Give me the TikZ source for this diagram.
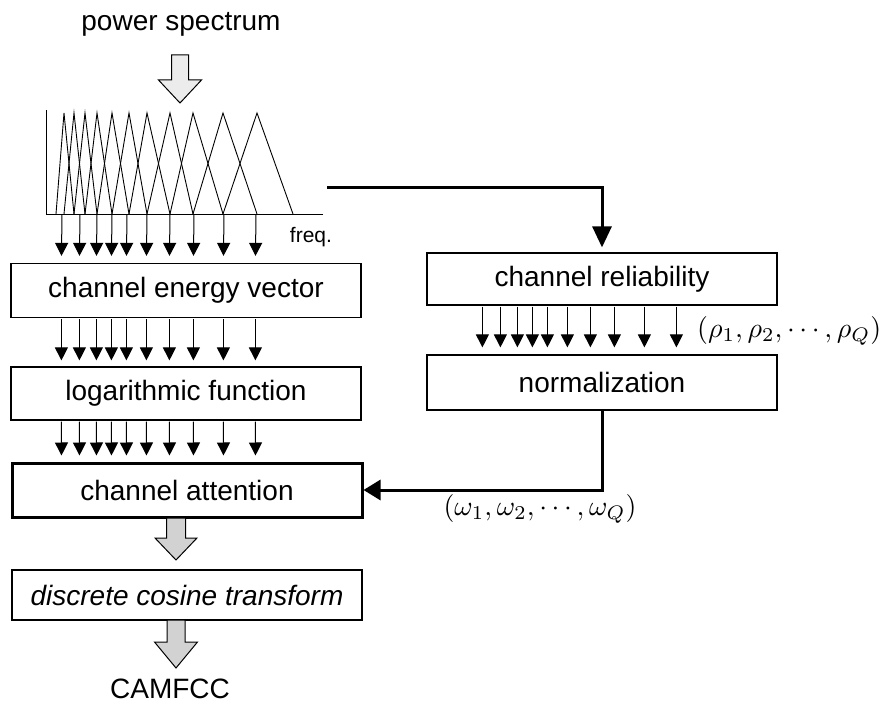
\documentclass[tikz,border=0pt]{standalone}
\usepackage{graphicx}
\usepackage{fontspec}
\setmainfont{Liberation Sans}
\usetikzlibrary{arrows.meta}
\newcommand\blkarrow[7]{%
  \draw[line width=1pt, fill=#7] ({#1-#5},#2) -- ({#1-#5},#3) -- ({#1-#6},#3) -- (#1,#4) -- ({#1+#6},#3) -- ({#1+#5},#3) -- ({#1+#5},#2) -- cycle;}
\begin{document}
\begin{tikzpicture}[x=1pt,y=-1pt,
  box/.style={draw, line width=1.2pt, rectangle, minimum width=350pt, minimum height=54pt, inner sep=0pt, font=\fontsize{28}{32}\selectfont},
  lab/.style={inner sep=0pt, font=\fontsize{28}{32}\selectfont},
  mlab/.style={inner sep=0pt},
  fbline/.style={line width=0.9pt},
  sarr/.style={line width=1pt, -{Triangle[width=13pt,length=13pt]}, shorten >=6pt, shorten <=1pt},
  barr/.style={line width=3pt, -{Triangle[width=19pt,length=21pt]}},
  carr/.style={line width=3pt, -{Triangle[width=20pt,length=17pt]}},
]
\useasboundingbox (0,0) rectangle (889,708);

% nodes
\node[lab] (ps) at (181,24) {power spectrum};
\node[box] (cev) at (186,290.5) {channel energy vector};
\node[box, minimum height=53pt] (lf) at (186,393.5) {logarithmic function};
\node[box, line width=3pt] (ca) at (187,490) {channel attention};
\node[box, minimum height=50pt] (dct) at (187,595) {\itshape discrete cosine transform};
\node[lab] (out) at (170,689) {CAMFCC};
\node[box, minimum height=52pt] (cr) at (602,279) {channel reliability};
\node[box, minimum height=55pt] (nm) at (602,382.5) {normalization};
\node[inner sep=0pt, font=\fontsize{21}{24}\selectfont] (fq) at (311,237) {freq.};
\node[mlab, anchor=west] (rho) at (697,331) {\scalebox{2.8}{$(\rho_1,\rho_2,\cdots,\rho_Q)$}};
\node[mlab] (om) at (540,509) {\scalebox{2.8}{$(\omega_1,\omega_2,\cdots,\omega_Q)$}};

% filter bank
\draw[fbline] (46,110) -- (46,214) -- (323,214);
\foreach \a/\b/\c in {56/64/74, 64/74/85, 74/85/97, 85/97/112, 97/112/129, 112/129/147, 129/147/170, 147/170/193, 170/193/223, 193/223/257, 223/257/293}
  \draw[fbline] (\a,214) -- (\b,113) -- (\c,214);

% block arrows
\blkarrow{180}{55}{80}{103}{8.5}{21.5}{gray!15}
\blkarrow{176}{518}{538}{560}{9.5}{21}{gray!35}
\blkarrow{176}{620}{642}{668}{9}{21.5}{gray!35}

% thin arrow rows
\foreach \o in {51,69,86,101,116,136,159,183,213,245}
  \draw[sarr, shorten >=7pt] ({\o+11},214) -- ([xshift=\o pt]cev.north west);
\foreach \o in {51,69,86,101,116,136,159,183,213,245}
  \draw[sarr] ([xshift=\o pt]cev.south west) -- ([xshift=\o pt]lf.north west);
\foreach \o in {51,69,86,101,116,136,159,183,213,245}
  \draw[sarr] ([xshift=\o pt]lf.south west) -- ([xshift=\o pt]ca.north west);
\foreach \o in {56,74,91,106,121,141,164,188,218,250}
  \draw[sarr, shorten >=7pt] ([xshift=\o pt]cr.south west) -- ([xshift=\o pt]nm.north west);

% main connectors
\coordinate (fbout) at (327,188);
\draw[barr, shorten >=5pt] (fbout) -| (cr.north);
\draw[carr] (nm.south) |- (ca.east);
\end{tikzpicture}
\end{document}
